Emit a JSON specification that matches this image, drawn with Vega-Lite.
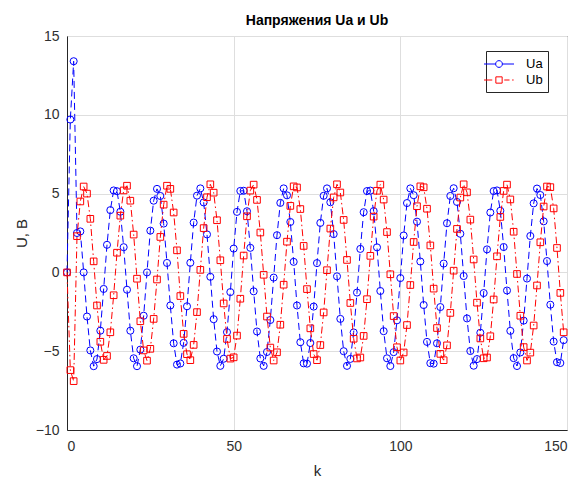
{
  "$schema": "https://vega.github.io/schema/vega-lite/v6.json",
  "width": 500,
  "height": 394,
  "autosize": {"type": "none"},
  "padding": {"left": 67, "top": 36, "right": 12, "bottom": 49},
  "background": "#ffffff",
  "config": {
    "font": "Liberation Sans",
    "view": {"stroke": "#262626", "strokeWidth": 1},
    "axis": {"grid": true, "gridColor": "#dedede", "gridWidth": 1, "domain": true, "domainColor": "#262626", "ticks": false, "labelFont": "Liberation Sans", "labelFontSize": 14, "labelColor": "#303030", "titleFont": "Liberation Sans", "titleFontSize": 15, "titleFontWeight": "normal", "titleColor": "#262626"}
  },
  "title": {"text": "Напряжения Ua и Ub", "fontSize": 14, "fontWeight": "bold", "font": "Liberation Sans", "color": "#000000", "offset": 1, "anchor": "middle"},
  "data": {"values": [
    {"k":0,"Ua":0,"Ub":0},{"k":1,"Ua":9.7,"Ub":-6.2},{"k":2,"Ua":13.4,"Ub":-6.9},{"k":3,"Ua":2.5,"Ub":2.3},{"k":4,"Ua":2.6,"Ub":4.5},
    {"k":5,"Ua":0.0,"Ub":5.45},{"k":6,"Ua":-2.8,"Ub":5.0},{"k":7,"Ua":-4.95,"Ub":3.4},{"k":8,"Ua":-5.95,"Ub":0.7},{"k":9,"Ua":-5.5,"Ub":-2.1},
    {"k":10,"Ua":-3.7,"Ub":-4.4},{"k":11,"Ua":-1.05,"Ub":-5.55},{"k":12,"Ua":1.75,"Ub":-5.3},{"k":13,"Ua":3.95,"Ub":-3.8},{"k":14,"Ua":5.2,"Ub":-1.45},
    {"k":15,"Ua":5.15,"Ub":1.25},{"k":16,"Ua":3.85,"Ub":3.6},{"k":17,"Ua":1.6,"Ub":5.2},{"k":18,"Ua":-1.1,"Ub":5.5},{"k":19,"Ua":-3.7,"Ub":4.55},
    {"k":20,"Ua":-5.45,"Ub":2.4},{"k":21,"Ua":-5.95,"Ub":-0.4},{"k":22,"Ua":-4.9,"Ub":-3.1},{"k":23,"Ua":-2.75,"Ub":-4.95},{"k":24,"Ua":0.0,"Ub":-5.6},
    {"k":25,"Ua":2.65,"Ub":-4.85},{"k":26,"Ua":4.55,"Ub":-2.95},{"k":27,"Ua":5.3,"Ub":-0.45},{"k":28,"Ua":4.85,"Ub":2.25},{"k":29,"Ua":3.1,"Ub":4.3},
    {"k":30,"Ua":0.6,"Ub":5.5},{"k":31,"Ua":-2.1,"Ub":5.3},{"k":32,"Ua":-4.5,"Ub":3.8},{"k":33,"Ua":-5.85,"Ub":1.4},{"k":34,"Ua":-5.78,"Ub":-1.5},
    {"k":35,"Ua":-4.47,"Ub":-3.9},{"k":36,"Ua":-2.15,"Ub":-5.19},{"k":37,"Ua":0.61,"Ub":-5.57},{"k":38,"Ua":3.16,"Ub":-4.6},{"k":39,"Ua":4.87,"Ub":-2.52},
    {"k":40,"Ua":5.33,"Ub":0.16},{"k":41,"Ua":4.44,"Ub":2.81},{"k":42,"Ua":2.41,"Ub":4.77},{"k":43,"Ua":-0.28,"Ub":5.59},{"k":44,"Ua":-2.97,"Ub":5.06},
    {"k":45,"Ua":-5.02,"Ub":3.31},{"k":46,"Ua":-5.93,"Ub":0.77},{"k":47,"Ua":-5.48,"Ub":-1.97},{"k":48,"Ua":-3.79,"Ub":-4.22},{"k":49,"Ua":-1.25,"Ub":-5.47},
    {"k":50,"Ua":1.51,"Ub":-5.39},{"k":51,"Ua":3.84,"Ub":-4.01},{"k":52,"Ua":5.17,"Ub":-1.67},{"k":53,"Ua":5.18,"Ub":1.07},{"k":54,"Ua":3.88,"Ub":3.56},
    {"k":55,"Ua":1.56,"Ub":5.19},{"k":56,"Ua":-1.2,"Ub":5.57},{"k":57,"Ua":-3.75,"Ub":4.6},{"k":58,"Ua":-5.46,"Ub":2.53},{"k":59,"Ua":-5.93,"Ub":-0.15},
    {"k":60,"Ua":-5.05,"Ub":-2.8},{"k":61,"Ua":-3.02,"Ub":-4.77},{"k":62,"Ua":-0.33,"Ub":-5.59},{"k":63,"Ua":2.36,"Ub":-5.07},{"k":64,"Ua":4.41,"Ub":-3.32},
    {"k":65,"Ua":5.33,"Ub":-0.78},{"k":66,"Ua":4.89,"Ub":1.95},{"k":67,"Ua":3.2,"Ub":4.22},{"k":68,"Ua":0.67,"Ub":5.46},{"k":69,"Ua":-2.1,"Ub":5.39},
    {"k":70,"Ua":-4.43,"Ub":4.02},{"k":71,"Ua":-5.77,"Ub":1.68},{"k":72,"Ua":-5.79,"Ub":-1.06},{"k":73,"Ua":-4.48,"Ub":-3.55},{"k":74,"Ua":-2.17,"Ub":-5.18},
    {"k":75,"Ua":0.59,"Ub":-5.57},{"k":76,"Ua":3.14,"Ub":-4.61},{"k":77,"Ua":4.86,"Ub":-2.54},{"k":78,"Ua":5.33,"Ub":0.14},{"k":79,"Ua":4.45,"Ub":2.78},
    {"k":80,"Ua":2.43,"Ub":4.76},{"k":81,"Ua":-0.25,"Ub":5.59},{"k":82,"Ua":-2.95,"Ub":5.07},{"k":83,"Ua":-5.0,"Ub":3.33},{"k":84,"Ua":-5.93,"Ub":0.79},
    {"k":85,"Ua":-5.49,"Ub":-1.94},{"k":86,"Ua":-3.81,"Ub":-4.21},{"k":87,"Ua":-1.28,"Ub":-5.46},{"k":88,"Ua":1.49,"Ub":-5.4},{"k":89,"Ua":3.82,"Ub":-4.03},
    {"k":90,"Ua":5.16,"Ub":-1.7},{"k":91,"Ua":5.19,"Ub":1.05},{"k":92,"Ua":3.89,"Ub":3.54},{"k":93,"Ua":1.59,"Ub":5.18},{"k":94,"Ua":-1.18,"Ub":5.57},
    {"k":95,"Ua":-3.73,"Ub":4.62},{"k":96,"Ua":-5.45,"Ub":2.56},{"k":97,"Ua":-5.94,"Ub":-0.12},{"k":98,"Ua":-5.06,"Ub":-2.77},{"k":99,"Ua":-3.04,"Ub":-4.75},
    {"k":100,"Ua":-0.36,"Ub":-5.59},{"k":101,"Ua":2.34,"Ub":-5.08},{"k":102,"Ua":4.4,"Ub":-3.34},{"k":103,"Ua":5.33,"Ub":-0.8},{"k":104,"Ua":4.9,"Ub":1.93},
    {"k":105,"Ua":3.22,"Ub":4.2},{"k":106,"Ua":0.69,"Ub":5.46},{"k":107,"Ua":-2.07,"Ub":5.4},{"k":108,"Ua":-4.41,"Ub":4.04},{"k":109,"Ua":-5.76,"Ub":1.71},
    {"k":110,"Ua":-5.79,"Ub":-1.03},{"k":111,"Ua":-4.5,"Ub":-3.53},{"k":112,"Ua":-2.2,"Ub":-5.17},{"k":113,"Ua":0.56,"Ub":-5.57},{"k":114,"Ua":3.12,"Ub":-4.63},
    {"k":115,"Ua":4.85,"Ub":-2.57},{"k":116,"Ua":5.34,"Ub":0.11},{"k":117,"Ua":4.47,"Ub":2.76},{"k":118,"Ua":2.45,"Ub":4.75},{"k":119,"Ua":-0.23,"Ub":5.59},
    {"k":120,"Ua":-2.92,"Ub":5.08},{"k":121,"Ua":-4.99,"Ub":3.35},{"k":122,"Ua":-5.92,"Ub":0.82},{"k":123,"Ua":-5.5,"Ub":-1.92},{"k":124,"Ua":-3.83,"Ub":-4.19},
    {"k":125,"Ua":-1.31,"Ub":-5.45},{"k":126,"Ua":1.46,"Ub":-5.4},{"k":127,"Ua":3.8,"Ub":-4.05},{"k":128,"Ua":5.16,"Ub":-1.72},{"k":129,"Ua":5.2,"Ub":1.02},
    {"k":130,"Ua":3.91,"Ub":3.52},{"k":131,"Ua":1.61,"Ub":5.17},{"k":132,"Ua":-1.15,"Ub":5.57},{"k":133,"Ua":-3.71,"Ub":4.63},{"k":134,"Ua":-5.44,"Ub":2.58},
    {"k":135,"Ua":-5.94,"Ub":-0.1},{"k":136,"Ua":-5.08,"Ub":-2.75},{"k":137,"Ua":-3.06,"Ub":-4.74},{"k":138,"Ua":-0.39,"Ub":-5.59},{"k":139,"Ua":2.31,"Ub":-5.09},
    {"k":140,"Ua":4.38,"Ub":-3.37},{"k":141,"Ua":5.32,"Ub":-0.83},{"k":142,"Ua":4.91,"Ub":1.91},{"k":143,"Ua":3.24,"Ub":4.18},{"k":144,"Ua":0.72,"Ub":5.45},
    {"k":145,"Ua":-2.05,"Ub":5.41},{"k":146,"Ua":-4.39,"Ub":4.06},{"k":147,"Ua":-5.7,"Ub":1.55},{"k":148,"Ua":-5.75,"Ub":-1.3},{"k":149,"Ua":-4.3,"Ub":-3.8}
  ]},
  "transform": [{"fold": ["Ua", "Ub"], "as": ["s", "u"]}],
  "encoding": {
    "x": {"field": "k", "type": "quantitative", "scale": {"domain": [0, 150], "nice": false, "zero": false}, "axis": {"values": [0, 50, 100, 150], "title": "k", "labelPadding": 9, "titlePadding": 10}},
    "y": {"field": "u", "type": "quantitative", "scale": {"domain": [-10, 15], "nice": false}, "axis": {"values": [-10, -5, 0, 5, 10, 15], "title": "U, B", "labelPadding": 8, "titlePadding": 6}},
    "color": {"field": "s", "type": "nominal", "scale": {"domain": ["Ua", "Ub"], "range": ["#0000ff", "#ff0000"]},
      "legend": {"title": null, "orient": "none", "legendX": 419, "legendY": 15, "direction": "vertical", "padding": 5, "rowPadding": 1, "strokeColor": "#262626", "fillColor": "#ffffff", "cornerRadius": 0, "symbolSize": 225, "symbolStrokeWidth": 1, "symbolOpacity": 1, "labelFontSize": 13, "labelColor": "#000000", "labelOffset": 19, "labelFont": "Liberation Sans"}}
  },
  "layer": [
    {"transform": [{"filter": {"field": "s", "equal": "Ua"}}], "mark": {"type": "line", "strokeWidth": 1, "strokeDash": [7, 4]}},
    {"transform": [{"filter": {"field": "s", "equal": "Ua"}}], "mark": {"type": "point", "shape": "circle", "filled": false, "size": 50, "strokeWidth": 1, "opacity": 1}},
    {"transform": [{"filter": {"field": "s", "equal": "Ub"}}], "mark": {"type": "line", "strokeWidth": 1, "strokeDash": [7, 3, 1.5, 3]}},
    {"transform": [{"filter": {"field": "s", "equal": "Ub"}}], "mark": {"type": "point", "shape": "square", "filled": false, "size": 44, "strokeWidth": 1, "opacity": 1}},
    {"mark": {"type": "point", "filled": false, "opacity": 0},
     "encoding": {"shape": {"field": "s", "type": "nominal",
       "scale": {"domain": ["Ua", "Ub"], "range": ["M-2,0H-0.45M0.45,0H2M0.45,0A0.45,0.45,0,1,1,-0.45,0A0.45,0.45,0,1,1,0.45,0", "M-2,0H-0.9M-0.42,-0.42H0.42V0.42H-0.42ZM0.7,0H1.4M1.75,0H1.95"]},
       "legend": {"title": null, "orient": "none", "legendX": 419, "legendY": 15, "direction": "vertical", "padding": 5, "rowPadding": 1, "strokeColor": "#262626", "fillColor": "#ffffff", "cornerRadius": 0, "symbolSize": 225, "symbolStrokeWidth": 1, "symbolOpacity": 1, "labelFontSize": 13, "labelColor": "#000000", "labelOffset": 19, "labelFont": "Liberation Sans"}}}}
  ]
}
